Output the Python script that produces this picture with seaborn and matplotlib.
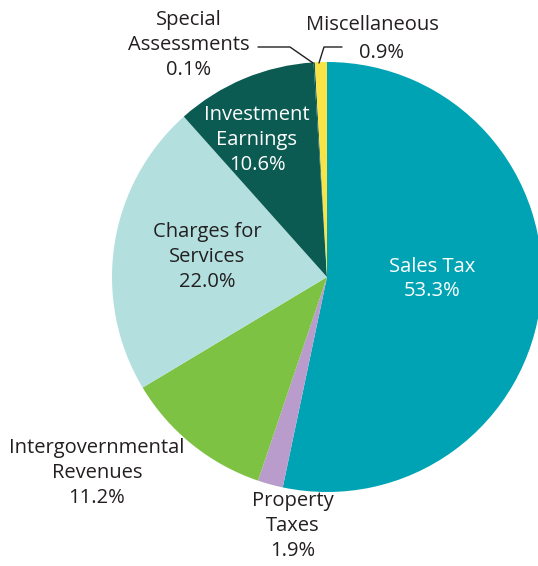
import matplotlib
matplotlib.use("Agg")
import matplotlib.pyplot as plt
import seaborn as sns

# slice data, clockwise from 12 o'clock
categories = ["Sales Tax", "Property Taxes", "Intergovernmental Revenues",
              "Charges for Services", "Investment Earnings",
              "Special Assessments", "Miscellaneous"]
shares = [53.3, 1.9, 11.2, 22.0, 10.6, 0.1, 0.9]
colors = ["#00A3B3", "#B99CCB", "#7DC243", "#B3E0DF", "#0B5B52",
          "#0B5B52", "#F8E447"]

# label text (line breaks as in the original)
label_text = ["Sales Tax", "Property\nTaxes", "Intergovernmental\nRevenues",
              "Charges for\nServices", "Investment\nEarnings",
              "Special\nAssessments", "Miscellaneous"]

sns.set_theme(style="white")
plt.rcParams['font.family'] = ['Open Sans', 'DejaVu Sans']

W, H = 538, 566
fig = plt.figure(figsize=(W / 100, H / 100), dpi=100)
ax = fig.add_axes([0, 0, 1, 1])

# pie in pixel space; y axis is inverted so counterclock=True draws clockwise
cx, cy, r = 327, 277, 215
ax.pie(shares, colors=colors, startangle=-90, counterclock=True,
       center=(cx, cy), radius=r, frame=True,
       wedgeprops=dict(linewidth=0))
ax.set_xlim(0, W)
ax.set_ylim(H, 0)
ax.set_aspect('equal')
ax.axis('off')

# label positions (pixel coords), colour of text
label_pos = [(432, 279), (293, 526), (97, 473), (207, 257), (257, 140),
             (189, 45), (372, 25)]
label_col = ["white", "#231F20", "#231F20", "#231F20", "white",
             "#231F20", "#231F20"]

for i, (txt, val, (x, y), c) in enumerate(zip(label_text, shares,
                                               label_pos, label_col)):
    if categories[i] == "Miscellaneous":
        ax.text(x, y, txt, ha='center', va='center', fontsize=14.5, color=c)
        ax.text(381, 53, f"{val:.1f}%", ha='center', va='center',
                fontsize=14.5, color=c)
        continue
    ax.text(x, y, f"{txt}\n{val:.1f}%", ha='center', va='center',
            fontsize=14.5, color=c, linespacing=1.33)

# leader lines for the two thin slices
ax.plot([258, 290, 313], [47, 47, 63], color="#231F20", lw=1)
ax.plot([342, 324, 319], [47, 47, 63], color="#231F20", lw=1)

fig.savefig("out.png", dpi=100)
